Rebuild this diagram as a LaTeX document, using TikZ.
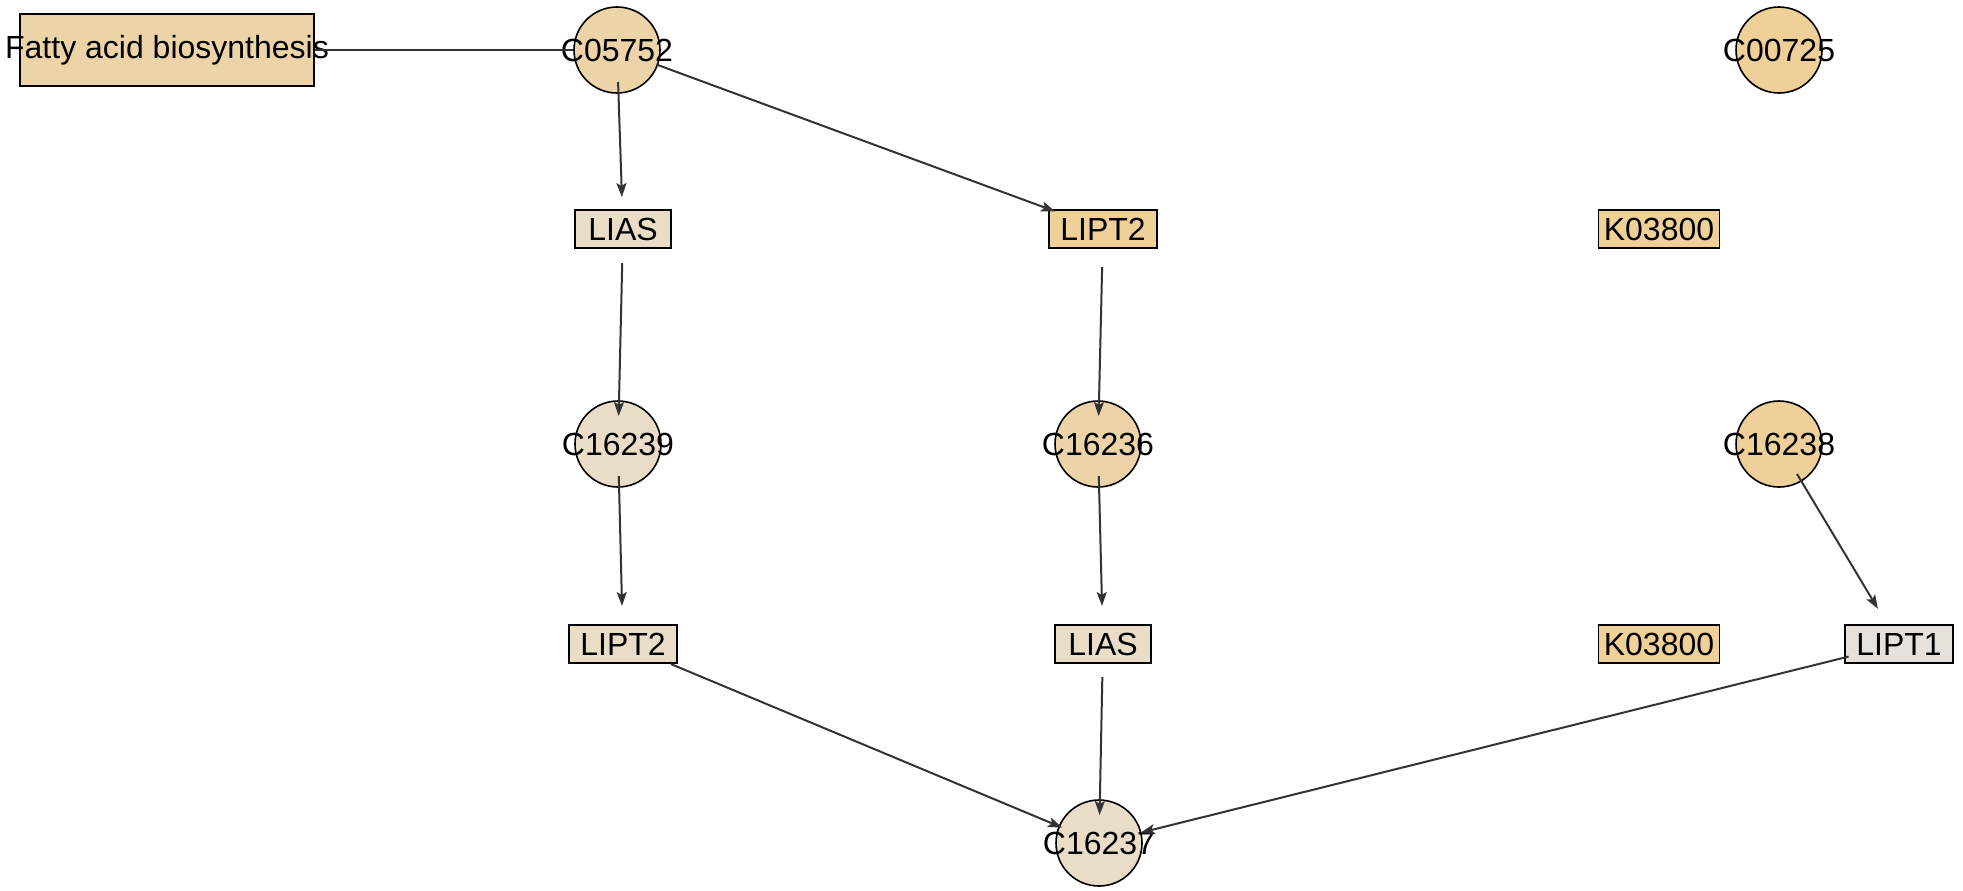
\documentclass[tikz,border=0pt]{standalone}
\usepackage{fontspec}
\setmainfont{Liberation Sans}
\usepackage{tikz}
\usetikzlibrary{arrows.meta}
\definecolor{tanA}{RGB}{237,212,168}
\definecolor{tanB}{RGB}{239,208,152}
\definecolor{paleA}{RGB}{233,221,199}
\definecolor{greyA}{RGB}{230,226,219}
\definecolor{edgegrey}{RGB}{51,51,51}
\newcommand{\lbl}[1]{\makebox[0pt]{#1}}
\tikzset{
	cpd/.style={circle, draw=black, line width=0.8pt, minimum size=43pt, inner sep=0pt},
	gene/.style={rectangle, draw=black, line width=0.8pt, minimum height=19pt, inner sep=0pt},
	rxn/.style={draw=edgegrey, line width=1pt, -{Stealth[length=7pt,width=5pt,inset=1.5pt]}}
}

\begin{document}
\begin{tikzpicture}[x=0.5pt, y=-0.5pt, font=\fontsize{16}{19}\selectfont]
		\useasboundingbox (0,0) rectangle (1963,890);
		% pathway map and compounds
		\node[rectangle, draw=black, line width=0.8pt, fill=tanA, minimum width=147pt, minimum height=36pt, inner sep=0pt] (fab) at (167,50) {\lbl{Fatty acid biosynthesis}};
		\node[cpd, fill=tanA] (c05752) at (617,50) {\lbl{C05752}};
		\node[cpd, fill=tanB] (c00725) at (1779,50) {\lbl{C00725}};
		\node[cpd, fill=paleA] (c16239) at (618,444) {\lbl{C16239}};
		\node[cpd, fill=tanA] (c16236) at (1098,444) {\lbl{C16236}};
		\node[cpd, fill=tanB] (c16238) at (1779,444) {\lbl{C16238}};
		\node[cpd, fill=paleA] (c16237) at (1099,843) {\lbl{C16237}};
		% genes
		\node[gene, fill=paleA, minimum width=48pt] (lias1) at (623,229) {LIAS};
		\node[gene, fill=tanB, minimum width=54pt] (lipt2a) at (1103,229) {LIPT2};
		\node[gene, fill=tanB, minimum width=60.5pt] (k1) at (1659,229) {K03800};
		\node[gene, fill=paleA, minimum width=54pt] (lipt2b) at (623,644) {LIPT2};
		\node[gene, fill=paleA, minimum width=48pt] (lias2) at (1103,644) {LIAS};
		\node[gene, fill=tanB, minimum width=60.5pt] (k2) at (1659,644) {K03800};
		\node[gene, fill=greyA, minimum width=54pt] (lipt1) at (1899,644) {LIPT1};
		% edges
		\draw[draw=edgegrey, line width=1pt] (fab) -- (c05752);
		\draw[rxn, shorten <=16pt, shorten >=16pt] (c05752.center) -- (lias1.center);
		\draw[rxn, shorten <=21pt, shorten >=25.5pt] (c05752.center) -- (lipt2a.center);
		\draw[rxn, shorten <=17pt, shorten >=14pt] (lias1.center) -- (c16239.center);
		\draw[rxn, shorten <=19pt, shorten >=14pt] (lipt2a.center) -- (c16236.center);
		\draw[rxn, shorten <=16pt, shorten >=19pt] (c16239.center) -- (lipt2b.center);
		\draw[rxn, shorten <=16pt, shorten >=19pt] (c16236.center) -- (lias2.center);
		\draw[rxn, shorten <=17.5pt, shorten >=20.5pt] (c16238.center) -- (lipt1.center);
		\draw[rxn, shorten <=26pt, shorten >=20pt] (lipt2b.center) -- (c16237.center);
		\draw[rxn, shorten <=16.5pt, shorten >=14pt] (lias2.center) -- (c16237.center);
		\draw[rxn, shorten <=26pt, shorten >=21.5pt] (lipt1.center) -- (c16237.center);
	\end{tikzpicture}
\end{document}
